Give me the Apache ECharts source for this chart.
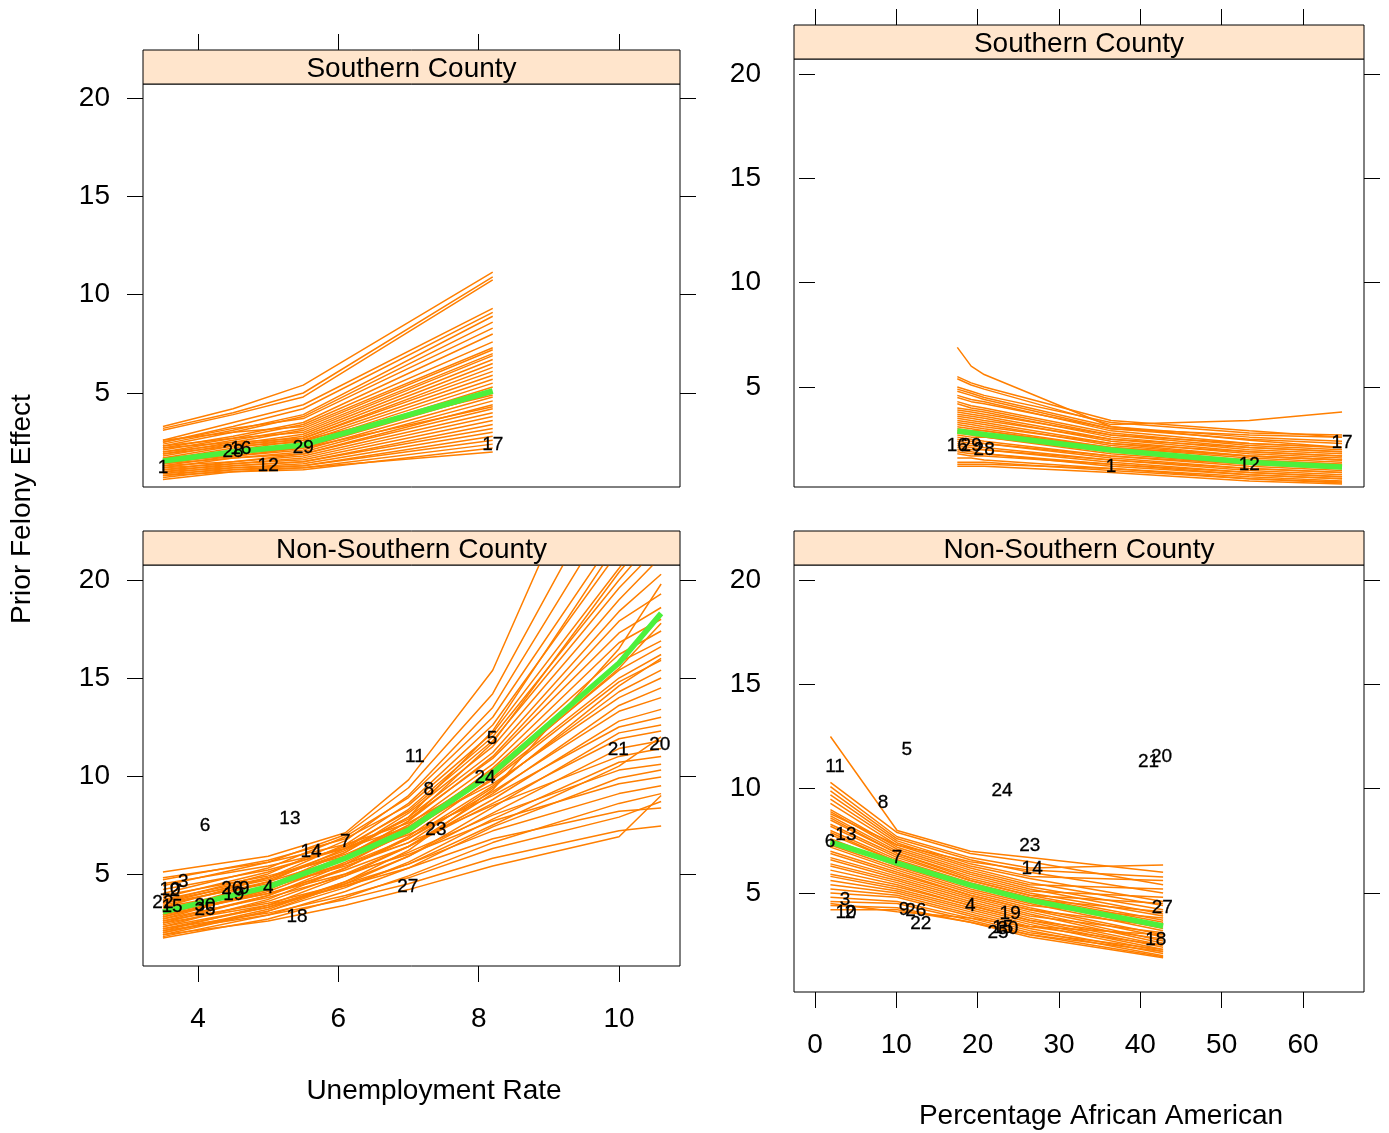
<!DOCTYPE html>
<html>
<head>
<meta charset="utf-8">
<script src="https://cdn.jsdelivr.net/npm/echarts@6/dist/echarts.min.js"></script>
<style>
html, body { margin: 0; padding: 0; background: #fff; }
#chart { width: 1389px; height: 1133px; }
</style>
</head>
<body>
<div id="chart"></div>
<script>
// tick labels
var unempTicks = [4, 6, 8, 10];
var pctTicks = [0, 10, 20, 30, 40, 50, 60];
var effectTicks = [5, 10, 15, 20];

// Southern County, by unemployment rate
var unempSouthKnots = [3.5, 4.5, 5.5, 8.2];
var unempSouthMean = [1.54, 2.0, 2.36, 5.1];
var unempSouthDraws = [
    [3.3, 4.2, 5.4, 11.15], [3.2, 4.0, 5.0, 10.9], [3.1, 3.9, 4.8, 10.75], [2.6, 3.5, 4.4, 9.3],
    [2.5, 3.3, 4.2, 9.1], [2.4, 3.1, 3.9, 8.9], [2.3, 3.0, 3.8, 8.6], [2.5, 3.2, 3.7, 8.3],
    [2.2, 2.8, 3.5, 8.0], [2.1, 2.7, 3.4, 7.6], [2.6, 3.0, 3.3, 7.3], [2.0, 2.6, 3.2, 7.2],
    [1.9, 2.5, 3.1, 7.0], [2.3, 2.7, 3.0, 6.9], [1.8, 2.4, 2.9, 6.7], [1.7, 2.3, 2.8, 6.5],
    [2.2, 2.5, 2.7, 6.3], [1.6, 2.2, 2.7, 6.1], [1.5, 2.1, 2.6, 5.9], [1.9, 2.3, 2.5, 5.7],
    [1.4, 1.9, 2.4, 5.5], [1.7, 2.0, 2.3, 5.3], [1.3, 1.8, 2.2, 5.0], [1.5, 1.8, 2.1, 4.8],
    [1.2, 1.7, 2.0, 4.6], [1.4, 1.7, 1.9, 4.4], [1.1, 1.5, 1.9, 4.2], [1.3, 1.5, 1.8, 4.0],
    [1.0, 1.4, 1.7, 3.8], [1.2, 1.4, 1.6, 3.6], [0.9, 1.3, 1.5, 3.4], [1.1, 1.3, 1.5, 3.2],
    [0.8, 1.2, 1.4, 3.0], [1.0, 1.2, 1.3, 2.8], [0.7, 1.1, 1.3, 2.6], [0.9, 1.1, 1.2, 2.4],
    [0.6, 1.0, 1.1, 2.2], [0.8, 1.0, 1.2, 2.0], [2.0, 2.4, 2.6, 4.9], [1.6, 1.9, 2.2, 4.3]
];
var unempSouthCounties = [
    ['1', 3.5, 1.19], ['28', 4.5, 2.0], ['16', 4.61, 2.15],
    ['29', 5.5, 2.2], ['12', 5.0, 1.29], ['17', 8.2, 2.36]
];

// Southern County, by percentage African American
var pctSouthKnots = [17.5, 19.2, 20.8, 36.4, 53.4, 64.8];
var pctSouthMean = [2.89, 2.81, 2.73, 1.98, 1.4, 1.17];
var pctSouthDraws = [
    [6.9, 6.0, 5.6, 3.1, 2.45, 2.1], [5.5, 5.2, 5.0, 3.4, 2.9, 2.6], [5.4, 5.1, 4.9, 3.2, 3.4, 3.8],
    [5.0, 4.8, 4.6, 3.3, 2.8, 2.7], [4.9, 4.7, 4.5, 3.1, 2.6, 2.4], [4.8, 4.6, 4.4, 3.0, 2.5, 2.3],
    [4.6, 4.4, 4.3, 2.9, 2.3, 2.1], [4.5, 4.3, 4.2, 3.0, 2.7, 2.6], [4.3, 4.1, 4.0, 2.8, 2.2, 2.0],
    [4.2, 4.0, 3.9, 2.7, 2.1, 1.9], [4.0, 3.9, 3.8, 2.6, 2.0, 1.8], [3.9, 3.8, 3.7, 2.7, 2.3, 2.1],
    [3.8, 3.7, 3.6, 2.5, 1.9, 1.7], [3.7, 3.6, 3.5, 2.4, 1.8, 1.6], [3.6, 3.5, 3.4, 2.5, 2.1, 1.9],
    [3.5, 3.4, 3.3, 2.3, 1.7, 1.5], [3.4, 3.3, 3.2, 2.2, 1.7, 1.5], [3.3, 3.2, 3.1, 2.3, 1.9, 1.7],
    [3.2, 3.1, 3.0, 2.1, 1.6, 1.4], [3.1, 3.0, 2.9, 2.0, 1.5, 1.3], [3.0, 2.9, 2.9, 2.1, 1.7, 1.5],
    [2.9, 2.8, 2.7, 1.9, 1.4, 1.2], [2.8, 2.7, 2.6, 1.8, 1.3, 1.1], [2.7, 2.6, 2.6, 1.9, 1.5, 1.3],
    [2.6, 2.5, 2.4, 1.7, 1.2, 1.0], [2.5, 2.4, 2.3, 1.6, 1.1, 0.9], [2.4, 2.3, 2.3, 1.7, 1.3, 1.1],
    [2.3, 2.2, 2.1, 1.5, 1.0, 0.8], [2.2, 2.1, 2.0, 1.4, 0.9, 0.7], [2.1, 2.0, 2.0, 1.5, 1.1, 0.9],
    [2.0, 1.9, 1.8, 1.3, 0.8, 0.6], [1.9, 1.8, 1.8, 1.2, 0.8, 0.6], [1.8, 1.7, 1.7, 1.3, 0.9, 0.7],
    [1.6, 1.6, 1.5, 1.1, 0.6, 0.45], [1.4, 1.4, 1.4, 1.0, 0.6, 0.4], [1.2, 1.2, 1.2, 0.9, 0.5, 0.35],
    [1.3, 1.3, 1.3, 1.1, 0.7, 0.5]
];
var pctSouthCounties = [
    ['16', 17.5, 2.17], ['29', 19.2, 2.17], ['28', 20.8, 1.98],
    ['1', 36.4, 1.17], ['12', 53.4, 1.26], ['17', 64.8, 2.32]
];

// Non-Southern County, by unemployment rate
var unempNorthKnots = [3.5, 5.0, 6.1, 7.0, 8.2, 10.0, 10.6];
var unempNorthMean = [3.06, 4.34, 5.8, 7.24, 10.15, 15.77, 18.3];
var unempNorthDraws = [
    [5.1, 5.9, 7.1, 9.8, 15.4, 30.0, 36.0], [4.4, 5.6, 7.0, 9.4, 14.2, 26.0, 31.0],
    [3.6, 5.0, 6.7, 9.0, 13.5, 24.0, 28.0], [4.0, 5.3, 6.9, 8.9, 13.0, 22.5, 26.0],
    [3.3, 4.8, 6.5, 8.6, 12.6, 21.5, 24.5], [4.7, 5.7, 6.8, 8.5, 12.2, 20.6, 23.5],
    [3.1, 4.6, 6.3, 8.3, 12.0, 20.0, 22.5], [3.8, 5.1, 6.4, 8.2, 11.8, 19.6, 21.8],
    [2.9, 4.4, 6.1, 8.1, 11.5, 19.0, 21.2], [3.5, 4.8, 6.2, 7.9, 11.2, 18.4, 20.3],
    [2.7, 4.2, 5.9, 7.7, 11.0, 17.9, 19.3], [4.2, 5.2, 6.3, 7.8, 10.9, 17.3, 18.6],
    [3.0, 4.4, 5.9, 7.5, 10.6, 16.8, 18.0], [2.5, 3.9, 5.5, 7.2, 10.4, 16.2, 17.4],
    [3.7, 4.8, 6.0, 7.4, 10.3, 15.8, 16.9], [2.8, 4.1, 5.6, 7.1, 10.1, 15.4, 16.6],
    [2.3, 3.7, 5.3, 6.9, 9.9, 15.0, 16.2], [3.4, 4.6, 5.8, 7.2, 9.8, 14.8, 15.9],
    [2.6, 3.9, 5.3, 6.8, 9.5, 14.3, 15.4], [4.5, 5.4, 6.3, 7.4, 9.6, 14.0, 15.0],
    [2.1, 3.4, 4.9, 6.4, 9.1, 13.6, 14.5], [3.2, 4.3, 5.5, 6.8, 9.2, 13.3, 14.0],
    [2.4, 3.6, 5.0, 6.4, 8.8, 12.8, 13.4], [3.9, 4.9, 5.9, 7.0, 9.0, 12.5, 13.0],
    [1.9, 3.1, 4.5, 5.9, 8.4, 12.2, 12.6], [2.9, 4.0, 5.2, 6.4, 8.6, 11.9, 12.3],
    [2.2, 3.3, 4.6, 5.9, 8.1, 11.4, 11.8], [3.5, 4.5, 5.5, 6.6, 8.5, 11.0, 11.4],
    [2.0, 3.1, 4.3, 5.6, 7.8, 10.7, 11.0], [2.7, 3.8, 4.9, 6.1, 8.0, 10.3, 10.6],
    [1.8, 2.9, 4.1, 5.3, 7.4, 9.9, 10.3], [3.0, 4.0, 5.0, 6.0, 7.7, 9.6, 9.95],
    [2.3, 3.3, 4.4, 5.5, 7.2, 9.1, 9.5], [1.73, 2.7, 3.8, 4.9, 6.6, 8.6, 9.1],
    [2.5, 3.4, 4.4, 5.3, 6.8, 8.2, 8.37], [2.1, 2.9, 3.7, 4.5, 5.8, 7.2, 7.45],
    [4.8, 5.6, 6.5, 7.6, 10.0, 15.5, 17.8], [2.0, 3.2, 4.6, 6.2, 9.3, 16.5, 19.8],
    [3.3, 4.3, 5.4, 6.6, 9.4, 14.6, 16.0], [1.9, 2.6, 3.4, 4.2, 5.4, 6.9, 9.0],
    [2.6, 3.5, 4.5, 5.5, 7.5, 10.5, 12.0], [2.2, 3.0, 3.9, 4.8, 6.3, 7.9, 8.7],
    [3.6, 4.7, 6.1, 7.9, 12.3, 22.0, 27.0], [2.8, 4.2, 5.8, 7.7, 11.7, 20.4, 23.0]
];
var unempNorthCounties = [
    ['6', 4.1, 7.45], ['13', 5.31, 7.8], ['3', 3.79, 4.6], ['10', 3.6, 4.18],
    ['2', 3.67, 4.13], ['22', 3.5, 3.52], ['15', 3.63, 3.32], ['30', 4.1, 3.37],
    ['25', 4.1, 3.16], ['26', 4.48, 4.23], ['9', 4.66, 4.23], ['19', 4.51, 3.93],
    ['4', 5.0, 4.29], ['18', 5.41, 2.8], ['14', 5.61, 6.12], ['7', 6.1, 6.63],
    ['27', 6.99, 4.34], ['11', 7.09, 11.0], ['8', 7.29, 9.29], ['23', 7.39, 7.24],
    ['5', 8.19, 11.9], ['24', 8.09, 9.9], ['21', 9.99, 11.33], ['20', 10.58, 11.58]
];

// Non-Southern County, by percentage African American
var pctNorthKnots = [1.9, 10.1, 19.1, 26.4, 42.8];
var pctNorthMean = [7.44, 6.44, 5.38, 4.66, 3.42];
var pctNorthDraws = [
    [12.5, 8.0, 7.0, 6.7, 6.0], [10.3, 7.9, 6.9, 6.5, 5.4], [10.1, 7.7, 6.7, 6.2, 6.34],
    [9.9, 7.6, 6.6, 6.0, 5.0], [9.7, 7.5, 6.4, 5.8, 5.6], [9.5, 7.4, 6.3, 5.7, 4.6],
    [9.3, 7.3, 6.2, 5.5, 4.4], [9.0, 7.2, 6.1, 5.4, 5.2], [8.9, 7.1, 6.0, 5.3, 4.2],
    [8.7, 7.0, 5.9, 5.2, 4.0], [8.6, 6.9, 5.8, 5.1, 4.8], [8.5, 6.9, 5.7, 5.0, 3.9],
    [8.3, 6.8, 5.6, 4.9, 3.7], [8.2, 6.7, 5.6, 4.9, 4.5], [8.0, 6.6, 5.5, 4.8, 3.6],
    [7.9, 6.5, 5.4, 4.7, 3.5], [7.8, 6.5, 5.4, 4.7, 4.1], [7.6, 6.4, 5.3, 4.6, 3.3],
    [7.5, 6.3, 5.2, 4.5, 3.2], [7.3, 6.2, 5.1, 4.4, 3.8], [7.2, 6.1, 5.0, 4.3, 3.0],
    [7.0, 6.0, 4.9, 4.2, 2.9], [6.9, 5.9, 4.9, 4.2, 3.4], [6.7, 5.8, 4.8, 4.1, 2.7],
    [6.6, 5.7, 4.7, 4.0, 2.6], [6.4, 5.6, 4.6, 3.9, 3.1], [6.3, 5.5, 4.5, 3.8, 2.5],
    [6.1, 5.4, 4.4, 3.7, 2.4], [5.9, 5.3, 4.4, 3.7, 2.8], [5.8, 5.2, 4.3, 3.6, 2.3],
    [5.6, 5.1, 4.2, 3.5, 2.2], [5.4, 5.0, 4.1, 3.4, 2.5], [5.2, 4.9, 4.0, 3.3, 2.1],
    [5.0, 4.8, 3.9, 3.2, 2.0], [4.8, 4.6, 3.8, 3.1, 2.3], [4.6, 4.5, 3.7, 3.0, 1.95],
    [4.4, 4.3, 3.6, 2.9, 1.9], [4.2, 4.2, 3.6, 3.0, 2.2], [4.5, 4.1, 3.8, 3.4, 3.0],
    [8.8, 7.3, 6.5, 6.1, 5.77]
];
var pctNorthCounties = [
    ['11', 2.46, 11.04], ['5', 11.3, 11.85], ['8', 8.36, 9.31], ['6', 1.85, 7.44],
    ['13', 3.8, 7.78], ['7', 10.1, 6.68], ['3', 3.69, 4.66], ['10', 3.81, 4.04],
    ['2', 4.3, 4.04], ['9', 10.95, 4.19], ['26', 12.4, 4.14], ['22', 13.0, 3.51],
    ['4', 19.1, 4.38], ['19', 24.0, 4.0], ['15', 23.1, 3.32], ['30', 23.7, 3.27],
    ['25', 22.5, 3.08], ['24', 23.0, 9.89], ['23', 26.4, 7.25], ['14', 26.7, 6.15],
    ['21', 41.0, 11.28], ['20', 42.6, 11.52], ['27', 42.7, 4.28], ['18', 41.9, 2.75]
];

var ORANGE = '#FF7F00';
var GREEN = '#4CF03C';
var STRIP = '#FFE5CC';
var FONT = '"Liberation Sans", Arial, Helvetica, sans-serif';

var myChart = echarts.init(document.getElementById('chart'));

// panel boxes in pixels: [left, top, width, height]
var boxes = [
    [143, 84, 537, 403],   // Southern / unemployment
    [794, 59, 570, 428],   // Southern / percentage
    [143, 565, 537, 401],  // Non-Southern / unemployment
    [794, 565, 570, 427]   // Non-Southern / percentage
];
var xRanges = [[3.216, 10.869], [-2.58, 67.5], [3.216, 10.869], [-2.58, 67.5]];
var yRanges = [[0.22, 20.71], [0.21, 20.72], [0.3, 20.77], [0.26, 20.72]];
var stripNames = ['Southern County', 'Southern County', 'Non-Southern County', 'Non-Southern County'];

var grids = [], xAxes = [], yAxes = [], series = [], graphics = [];

boxes.forEach(function (b, i) {
    var isTop = i < 2;
    var ticks = (i % 2 === 0) ? unempTicks : pctTicks;
    grids.push({
        left: b[0], top: b[1], width: b[2], height: b[3],
        show: true, borderColor: '#000', borderWidth: 1, backgroundColor: '#fff'
    });
    xAxes.push({
        type: 'value', gridIndex: i, min: xRanges[i][0], max: xRanges[i][1],
        position: isTop ? 'top' : 'bottom',
        offset: isTop ? 34 : 0,
        axisLine: {show: false},
        splitLine: {show: false},
        axisTick: {show: true, length: 16, customValues: ticks, lineStyle: {color: '#000', width: 1}},
        axisLabel: {
            show: !isTop, customValues: ticks, margin: 39,
            fontSize: 28, color: '#000', fontFamily: FONT
        }
    });
    yAxes.push({
        type: 'value', gridIndex: i, min: yRanges[i][0], max: yRanges[i][1], position: 'left',
        axisLine: {show: false}, splitLine: {show: false},
        axisTick: {show: true, length: 16, customValues: effectTicks, lineStyle: {color: '#000', width: 1}},
        axisLabel: {customValues: effectTicks, margin: 33, fontSize: 28, color: '#000', fontFamily: FONT}
    });
    yAxes.push({
        type: 'value', gridIndex: i, min: yRanges[i][0], max: yRanges[i][1], position: 'right',
        axisLine: {show: false}, splitLine: {show: false},
        axisTick: {show: true, length: 16, customValues: effectTicks, lineStyle: {color: '#000', width: 1}},
        axisLabel: {show: false}
    });

    // strip
    graphics.push({
        type: 'rect', z: 10,
        shape: {x: b[0], y: b[1] - 34, width: b[2], height: 34},
        style: {fill: STRIP, stroke: '#000', lineWidth: 1}
    });
    graphics.push({
        type: 'text', z: 11, x: b[0] + b[2] / 2, y: b[1] - 15,
        style: {text: stripNames[i], fill: '#000', font: '28px ' + FONT, align: 'center', verticalAlign: 'middle'}
    });
});

function addPanel(i, knots, draws, mean, counties) {
    draws.forEach(function (d) {
        series.push({
            type: 'line', xAxisIndex: i, yAxisIndex: i * 2, symbol: 'none', silent: true, z: 2,
            lineStyle: {color: ORANGE, width: 1.5},
            data: knots.map(function (x, k) { return [x, d[k]]; })
        });
    });
    series.push({
        type: 'line', xAxisIndex: i, yAxisIndex: i * 2, symbol: 'none', silent: true, z: 3,
        lineStyle: {color: GREEN, width: 5.5},
        data: knots.map(function (x, k) { return [x, mean[k]]; })
    });
    series.push({
        type: 'scatter', xAxisIndex: i, yAxisIndex: i * 2, symbolSize: 0, silent: true, z: 4,
        itemStyle: {color: '#000', opacity: 1},
        label: {
            show: true, position: 'inside', color: '#000', opacity: 1, fontSize: 19, fontFamily: FONT,
            textBorderColor: '#000', textBorderWidth: 0.3,
            formatter: function (p) { return p.value[2]; }
        },
        data: counties.map(function (c) { return [c[1], c[2], c[0]]; })
    });
}

addPanel(0, unempSouthKnots, unempSouthDraws, unempSouthMean, unempSouthCounties);
addPanel(1, pctSouthKnots, pctSouthDraws, pctSouthMean, pctSouthCounties);
addPanel(2, unempNorthKnots, unempNorthDraws, unempNorthMean, unempNorthCounties);
addPanel(3, pctNorthKnots, pctNorthDraws, pctNorthMean, pctNorthCounties);

graphics.push({
    type: 'text', x: 434, y: 1091,
    style: {text: 'Unemployment Rate', fill: '#000', font: '28px ' + FONT, align: 'center', verticalAlign: 'middle'}
});
graphics.push({
    type: 'text', x: 1101, y: 1116,
    style: {text: 'Percentage African American', fill: '#000', font: '28px ' + FONT, align: 'center', verticalAlign: 'middle'}
});
graphics.push({
    type: 'text', x: 22, y: 509, rotation: Math.PI / 2,
    style: {text: 'Prior Felony Effect', fill: '#000', font: '28px ' + FONT, align: 'center', verticalAlign: 'middle'}
});

var option = {
    animation: false,
    backgroundColor: '#fff',
    grid: grids,
    xAxis: xAxes,
    yAxis: yAxes,
    series: series,
    graphic: graphics
};

// 绘制图表
myChart.setOption(option);
</script>
</body>
</html>
